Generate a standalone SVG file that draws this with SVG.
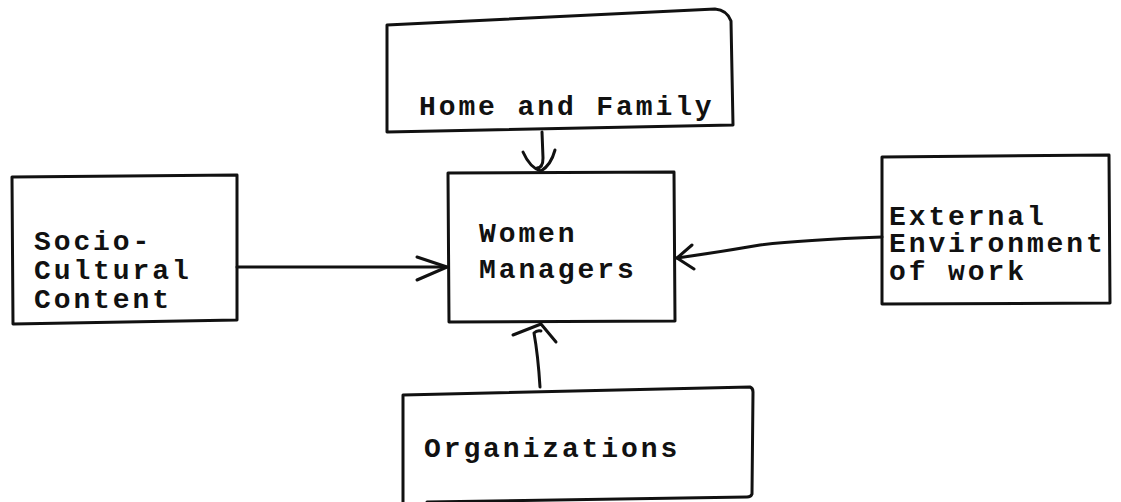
<svg xmlns="http://www.w3.org/2000/svg" width="1121" height="502" viewBox="0 0 1121 502">
<style>
.box{fill:none;stroke:#111;stroke-width:3;stroke-linejoin:round;stroke-linecap:round}
.conn{fill:none;stroke:#111;stroke-width:3;stroke-linecap:round;stroke-linejoin:round}
.t{font-family:"Liberation Mono","Courier New",monospace;font-size:28px;font-weight:bold;letter-spacing:2.9px;fill:#111}
</style>
<rect width="1121" height="502" fill="#fff"/>
<g id="home">
<path class="box" d="M387,25 L715,9 Q727,10 731,21 L733,125 L387,132 Z"/>
<text class="t" x="419" y="115">Home and Family</text>
</g>
<g id="socio">
<path class="box" d="M12,177 L237,175 L237,320 L13,324 Z"/>
<text class="t" x="34" y="250">Socio-</text>
<text class="t" x="34" y="279">Cultural</text>
<text class="t" x="34" y="308">Content</text>
</g>
<g id="women">
<path class="box" d="M448,173 L674,172 L675,321 L449,322 Z"/>
<text class="t" x="479" y="242">Women</text>
<text class="t" x="479" y="278">Managers</text>
</g>
<g id="external">
<path class="box" d="M882,157 L1109,155 L1110,303 L882,304 Z"/>
<text class="t" x="889" y="225">External</text>
<text class="t" x="889" y="252">Environment</text>
<text class="t" x="889" y="280">of work</text>
</g>
<g id="organizations">
<path class="box" d="M403,395 L750,387 Q753,388 753,392 L752,494 Q751,497 747,497 L427,502 M403,395 L403,502"/>
<text class="t" x="424" y="457">Organizations</text>
</g>
<g id="connectors">
<path class="conn" d="M542,132 L543,158 Q543,168 537,168"/>
<path class="conn" d="M523,152 Q530,168 541,171 Q551,165 555,150"/>
<path class="conn" d="M237,267 L446,267"/>
<path class="conn" d="M417,257 L447,267 L417,280"/>
<path class="conn" d="M882,237 Q800,240 760,245 Q720,252 677,258"/>
<path class="conn" d="M692,245 L677,258 L694,269"/>
<path class="conn" d="M540,387 Q538,355 534,333 Q537,330 541,331"/>
<path class="conn" d="M513,335 L541,324 L556,342"/>
</g>
</svg>
